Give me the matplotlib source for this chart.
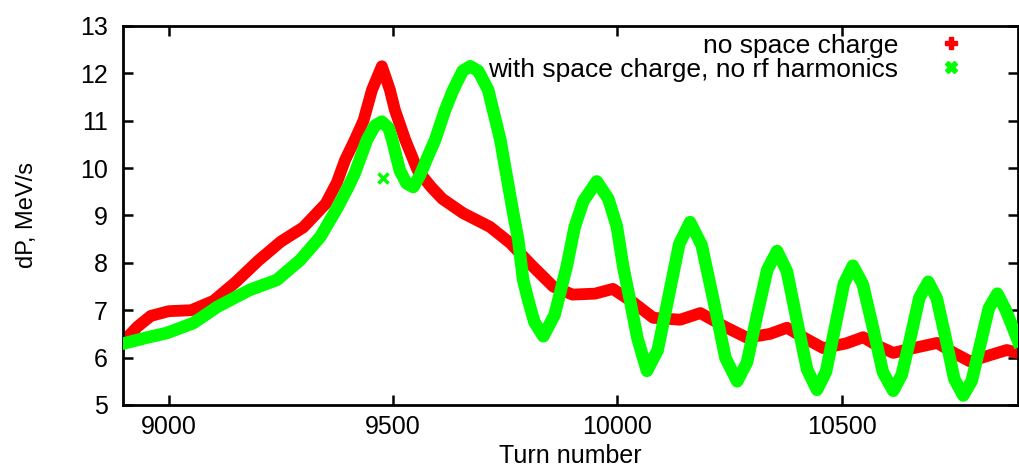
import matplotlib.pyplot as plt
from matplotlib.lines import Line2D

plt.rcParams['font.family'] = ['Liberation Sans', 'DejaVu Sans']

# Data
turn_red = [8905, 8930, 8960, 9000, 9050, 9100, 9150, 9200, 9250, 9300, 9350,
            9375, 9393, 9415, 9434, 9453, 9475, 9493, 9504, 9527, 9555, 9585,
            9610, 9656, 9716, 9761, 9812, 9857, 9900, 9950, 9990, 10036, 10080,
            10140, 10185, 10240, 10289, 10340, 10378, 10420, 10459, 10510,
            10548, 10580, 10615, 10660, 10713, 10750, 10786, 10830, 10868, 10893]
dp_red = [6.4, 6.65, 6.88, 6.98, 7.0, 7.2, 7.6, 8.05, 8.45, 8.75, 9.25,
          9.7, 10.17, 10.6, 11.0, 11.65, 12.15, 11.65, 11.23, 10.6, 9.95, 9.6,
          9.35, 9.05, 8.76, 8.42, 7.92, 7.5, 7.33, 7.35, 7.45, 7.16, 6.84,
          6.8, 6.94, 6.65, 6.42, 6.5, 6.63, 6.4, 6.2, 6.3,
          6.43, 6.25, 6.1, 6.2, 6.31, 6.1, 5.92, 6.05, 6.16, 6.1]

turn_green = [8900, 8950, 8996, 9055, 9108, 9150, 9181, 9241, 9293, 9338, 9375,
              9400, 9415, 9442, 9460, 9475, 9490, 9498, 9515, 9530, 9545, 9560,
              9580, 9594, 9615, 9634, 9655, 9672, 9690, 9712, 9739, 9752, 9765,
              9779, 9790, 9801, 9815, 9835, 9860, 9887, 9905, 9924, 9954, 9980,
              9999, 10013, 10028, 10045, 10066, 10090, 10114, 10138, 10162,
              10188, 10215, 10241, 10267, 10289, 10311, 10334, 10356, 10378,
              10400, 10423, 10445, 10465, 10485, 10505, 10525, 10547, 10570,
              10592, 10615, 10634, 10654, 10673, 10693, 10712, 10732, 10751,
              10771, 10790, 10809, 10828, 10847, 10866, 10887, 10893]
dp_green = [6.3, 6.42, 6.52, 6.73, 7.07, 7.28, 7.43, 7.64, 8.06, 8.55, 9.15,
            9.6, 9.9, 10.6, 10.9, 10.98, 10.85, 10.6, 9.95, 9.68, 9.6, 9.85,
            10.3, 10.6, 11.2, 11.65, 12.05, 12.15, 12.05, 11.65, 10.6, 9.9, 9.2,
            8.49, 7.64, 7.22, 6.75, 6.45, 6.9, 7.92, 8.76, 9.3, 9.72, 9.35,
            8.76, 7.92, 7.22, 6.4, 5.72, 6.16, 7.28, 8.4, 8.86,
            8.37, 7.18, 5.99, 5.5, 5.9, 6.88, 7.85, 8.25, 7.82,
            6.79, 5.75, 5.32, 5.7, 6.63, 7.56, 7.94, 7.55, 6.62,
            5.69, 5.3, 5.64, 6.45, 7.26, 7.6, 7.25, 6.4, 5.55,
            5.2, 5.51, 6.28, 7.04, 7.35, 7.0, 6.5, 6.35]

# single stray point of the green series
stray_turn = [9478]
stray_dp = [9.8]

x_ticks = [9000, 9500, 10000, 10500]
y_ticks = [5, 6, 7, 8, 9, 10, 11, 12, 13]
labels = ['no space charge', 'with space charge, no rf harmonics']

red = '#ff0000'
green = '#00ff00'

fig = plt.figure(figsize=(10.19, 4.69), dpi=100)
ax = fig.add_axes([0.1207, 0.1365, 0.8783, 0.8081])

ax.plot(turn_red, dp_red, color=red, lw=8.5, solid_joinstyle='round', zorder=2)
ax.plot(turn_green, dp_green, color=green, lw=9, solid_joinstyle='round', zorder=3)
ax.plot(stray_turn, stray_dp, ls='none', marker='x', ms=7, mew=2.5, color=green, zorder=3)

ax.set_xlim(8898, 10893)
ax.set_ylim(5, 13)
ax.set_xticks(x_ticks)
ax.set_yticks(y_ticks)
ax.tick_params(direction='in', length=7, width=1.8, top=True, right=True,
               labelsize=18)
ax.tick_params(axis='y', pad=11)
ax.tick_params(axis='x', pad=7)
for s in ax.spines.values():
    s.set_linewidth(2)

ax.set_xlabel('Turn number', fontsize=18, labelpad=4)
ax.set_ylabel('dP, MeV/s', fontsize=17, labelpad=30)

handles = [Line2D([], [], ls='none', marker='P', ms=9, color=red),
           Line2D([], [], ls='none', marker='X', ms=9, color=green)]
ax.legend(handles, labels, loc='upper right', bbox_to_anchor=(0.94, 0.98),
          frameon=False, markerfirst=False, fontsize=19, handlelength=1.0,
          handletextpad=1.5, labelspacing=0.0, borderpad=0, borderaxespad=0)

plt.savefig('out.png', dpi=100)
